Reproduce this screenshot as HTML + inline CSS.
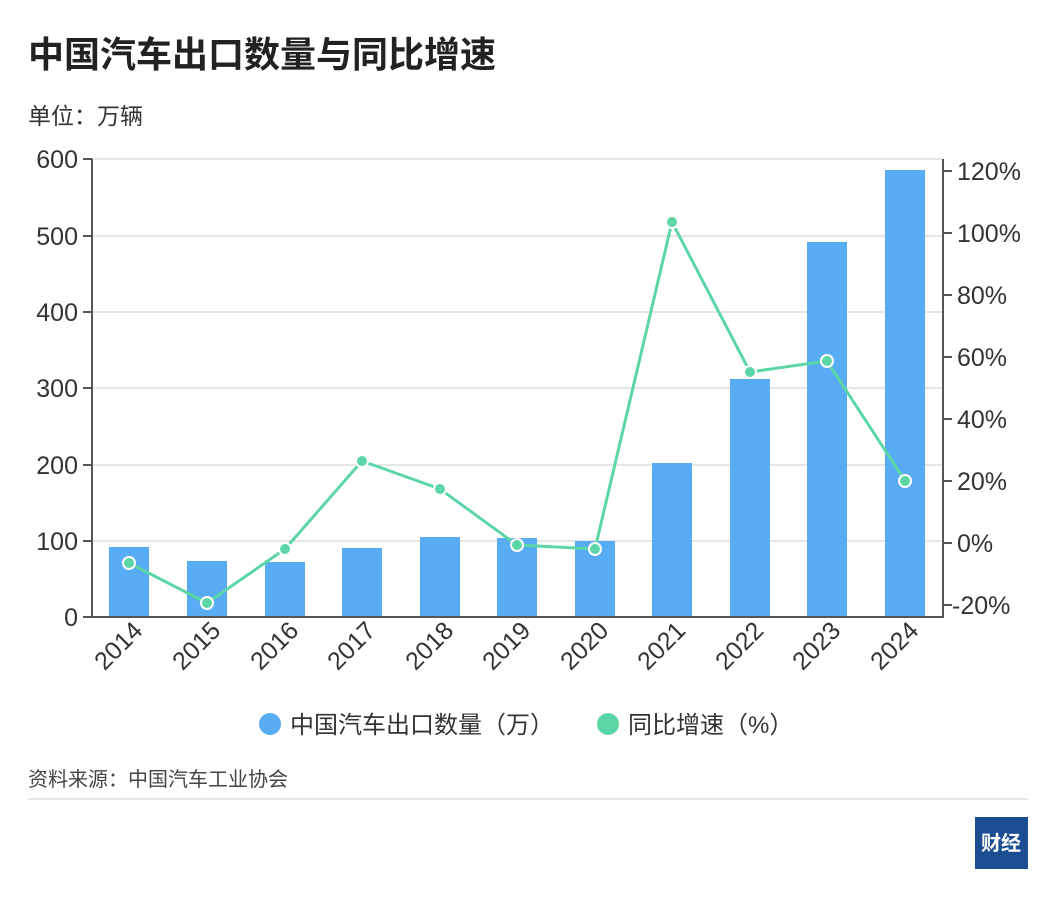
<!DOCTYPE html>
<html><head><meta charset="utf-8"><style>
body{margin:0;background:#fff;}
svg text{font-family:"Liberation Sans","Noto Sans CJK SC",sans-serif;}
</style></head><body>
<svg width="1056" height="898" xmlns="http://www.w3.org/2000/svg">
<rect width="1056" height="898" fill="#fff"/>
<text x="28" y="67" font-size="36" font-weight="bold" fill="#222">中国汽车出口数量与同比增速</text>
<text x="28" y="124" font-size="23" fill="#333">单位：万辆</text>
<g stroke="#ddd" stroke-width="1.5">
<line x1="92" y1="159" x2="943" y2="159"/><line x1="92" y1="236" x2="943" y2="236"/>
<line x1="92" y1="312" x2="943" y2="312"/><line x1="92" y1="388" x2="943" y2="388"/>
<line x1="92" y1="465" x2="943" y2="465"/><line x1="92" y1="541" x2="943" y2="541"/>
</g>
<g fill="#58acf3">
<rect x="109" y="547" width="40" height="70"/><rect x="187" y="561" width="40" height="56"/>
<rect x="265" y="562" width="40" height="55"/><rect x="342" y="548" width="40" height="69"/>
<rect x="420" y="537" width="40" height="80"/><rect x="497" y="538" width="40" height="79"/>
<rect x="575" y="541" width="40" height="76"/><rect x="652" y="463" width="40" height="154"/>
<rect x="730" y="379" width="40" height="238"/><rect x="807" y="242" width="40" height="375"/>
<rect x="885" y="170" width="40" height="447"/>
</g>
<g stroke="#555" stroke-width="2" fill="none">
<line x1="92" y1="159" x2="92" y2="618"/><line x1="91" y1="617" x2="944" y2="617"/>
<line x1="943" y1="159" x2="943" y2="618"/>
<path d="M83 159H92M83 236H92M83 312H92M83 388H92M83 465H92M83 541H92M83 617H92"/>
<path d="M943 171H952M943 233H952M943 295H952M943 357H952M943 419H952M943 481H952M943 543H952M943 605H952"/>
</g>
<g font-size="25" fill="#333" text-anchor="end">
<text x="78" y="168">600</text><text x="78" y="245">500</text><text x="78" y="321">400</text>
<text x="78" y="397">300</text><text x="78" y="474">200</text><text x="78" y="550">100</text><text x="78" y="626">0</text>
</g>
<g font-size="25" fill="#333">
<text x="957" y="180">120%</text><text x="957" y="242">100%</text><text x="957" y="304">80%</text>
<text x="957" y="366">60%</text><text x="957" y="428">40%</text><text x="957" y="490">20%</text>
<text x="957" y="552">0%</text><text x="952" y="614">-20%</text>
</g>
<g font-size="25" fill="#333" text-anchor="end">
<text transform="translate(144,632) rotate(-45)">2014</text>
<text transform="translate(222,632) rotate(-45)">2015</text>
<text transform="translate(300,632) rotate(-45)">2016</text>
<text transform="translate(377,632) rotate(-45)">2017</text>
<text transform="translate(455,632) rotate(-45)">2018</text>
<text transform="translate(532,632) rotate(-45)">2019</text>
<text transform="translate(610,632) rotate(-45)">2020</text>
<text transform="translate(687,632) rotate(-45)">2021</text>
<text transform="translate(765,632) rotate(-45)">2022</text>
<text transform="translate(842,632) rotate(-45)">2023</text>
<text transform="translate(920,632) rotate(-45)">2024</text>
</g>
<polyline points="129,563 207,603 285,549 362,461 440,489 517,545 595,549 672,222 750,372 827,361 905,481" fill="none" stroke="#5dd6a6" stroke-width="3"/>
<g fill="#5dd6a6" stroke="#fff" stroke-width="2">
<circle cx="129" cy="563" r="6"/><circle cx="207" cy="603" r="6"/><circle cx="285" cy="549" r="6"/>
<circle cx="362" cy="461" r="6"/><circle cx="440" cy="489" r="6"/><circle cx="517" cy="545" r="6"/>
<circle cx="595" cy="549" r="6"/><circle cx="672" cy="222" r="6"/><circle cx="750" cy="372" r="6"/>
<circle cx="827" cy="361" r="6"/><circle cx="905" cy="481" r="6"/>
</g>
<circle cx="270" cy="724" r="11" fill="#58acf3"/>
<text x="290" y="733" font-size="24" fill="#333">中国汽车出口数量（万）</text>
<circle cx="608" cy="724" r="11" fill="#5dd6a6"/>
<text x="628" y="733" font-size="24" fill="#333">同比增速（%）</text>
<text x="28" y="786" font-size="20" fill="#444">资料来源：中国汽车工业协会</text>
<line x1="28" y1="799" x2="1028" y2="799" stroke="#ddd" stroke-width="1.5"/>
<rect x="975" y="817" width="53" height="52" fill="#1b4d93"/>
<text x="1001" y="850" font-size="20" font-weight="bold" fill="#fff" text-anchor="middle">财经</text>
</svg>
</body></html>
